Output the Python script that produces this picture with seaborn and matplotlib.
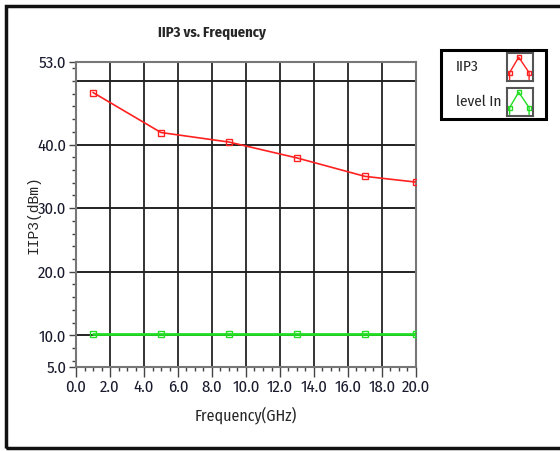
import matplotlib
matplotlib.use('Agg')
import matplotlib.pyplot as plt
import seaborn as sns
import numpy as np
from matplotlib.patches import Rectangle

# data
freq_ghz = [1, 5, 9, 13, 17, 20]
iip3_dbm = [48.2, 41.9, 40.4, 37.9, 35.0, 34.1]
level_in = [10.2, 10.2, 10.2, 10.2, 10.2, 10.2]
series_names = ['IIP3', 'level In']
ytick_vals = [5, 10, 20, 30, 40, 53]
xtick_vals = [0, 2, 4, 6, 8, 10, 12, 14, 16, 18, 20]

RED = '#ff2020'
GREEN = '#22dd22'
W, H = 560, 451

sns.set_style('white')
# narrow face, falls back to plain DejaVu if missing
plt.rcParams['font.family'] = ['Fira Sans Condensed', 'DejaVu Sans']

fig = plt.figure(figsize=(5.6, 4.51), dpi=100)
ax = fig.add_axes([76 / W, 1 - 367 / H, 340 / W, 305 / H])

sns.lineplot(x=freq_ghz, y=iip3_dbm, ax=ax, color=RED, lw=1.2,
             marker='s', ms=4.5, mfc='none', mec=RED, mew=1, zorder=4)
sns.lineplot(x=freq_ghz, y=level_in, ax=ax, color=GREEN, lw=2,
             marker='s', ms=4.5, mfc='none', mec=GREEN, mew=1, zorder=4)

ax.set_xlim(0, 20)
ax.set_ylim(5, 53)

for v in xtick_vals:
    ax.axvline(v, color='#333333', lw=1.4, zorder=1)
for v in [10, 20, 30, 40, 50]:
    ax.axhline(v, color='#222222', lw=1.4, zorder=1)

ax.set_xticks(xtick_vals)
ax.set_xticklabels(['%.1f' % v for v in xtick_vals])
ax.set_xticks(np.arange(0, 20.01, 0.5), minor=True)
ax.set_yticks(ytick_vals)
ax.set_yticklabels(['%.1f' % v for v in ytick_vals])
ax.set_yticks(np.arange(6, 53, 2), minor=True)

ax.tick_params(axis='both', which='both', bottom=True, left=True,
               direction='out', width=1, color='#444444')
ax.tick_params(axis='both', which='major', length=5, labelsize=12,
               labelcolor='#1a1a2e', pad=2)
ax.tick_params(axis='both', which='minor', length=3)
ax.tick_params(axis='x', which='major', length=7)

for s in ax.spines.values():
    s.set_color('#777777')
    s.set_linewidth(1.5)

ax.set_xlabel('Frequency(GHz)', fontsize=11.5)
ax.xaxis.set_label_coords(0.5, -0.13)
ax.set_ylabel('IIP3(dBm)', fontsize=10.5,
              family=['Liberation Mono', 'DejaVu Sans Mono'])
ax.yaxis.set_label_coords(-0.105, 0.5)
fig.text(212 / W, 1 - 33 / H, 'IIP3 vs. Frequency', fontsize=10.5,
         fontweight='bold', ha='center', va='center')

# legend panel drawn like the LabVIEW plot legend
fig.patches.append(Rectangle((441 / W, 1 - 119 / H), 105 / W, 69 / H,
                             transform=fig.transFigure, fill=False,
                             edgecolor='black', lw=2.2))
for i, (name, col) in enumerate(zip(series_names, [RED, GREEN])):
    top = 53 + i * 35
    fig.text(456 / W, 1 - (top + 14) / H, name, fontsize=11,
             ha='left', va='center')
    ic = fig.add_axes([507 / W, 1 - (top + 28) / H, 26 / W, 28 / H])
    ic.set_xlim(0, 1)
    ic.set_ylim(0, 1)
    ic.set_xticks([])
    ic.set_yticks([])
    for s in ic.spines.values():
        s.set_color('#555555')
        s.set_linewidth(1.5)
    ic.plot([0.1, 0.1, 0.45, 0.85, 0.85], [0.05, 0.3, 0.85, 0.3, 0.05],
            color=col, lw=1)
    ic.plot([0.1, 0.45, 0.85], [0.3, 0.85, 0.3], ls='none', marker='s',
            ms=3, mfc='none', mec=col, mew=1)

# outer panel frame
fig.patches.append(Rectangle((6 / W, 3 / H), 1.1, 1 - 9 / H,
                             transform=fig.transFigure, fill=False,
                             edgecolor='#111111', lw=2.5))

fig.savefig('out.png', dpi=100)
